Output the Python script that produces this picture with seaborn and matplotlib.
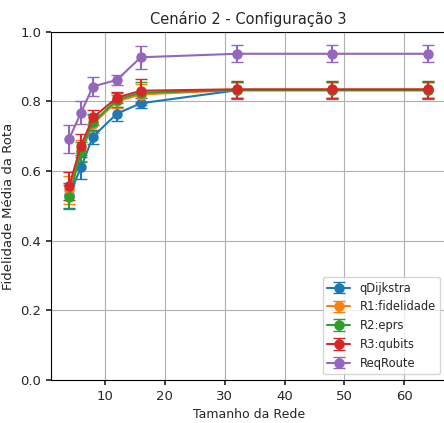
import matplotlib
matplotlib.use("Agg")
import matplotlib.pyplot as plt
import seaborn as sns
import pandas as pd
import numpy as np

# Network sizes
tamanhos = [4, 6, 8, 12, 16, 32, 48, 64]

# Mean route fidelity per algorithm
qdijkstra = [0.530, 0.611, 0.699, 0.765, 0.795, 0.832, 0.832, 0.832]
r1_fidelidade = [0.545, 0.660, 0.735, 0.800, 0.820, 0.833, 0.833, 0.833]
r2_eprs = [0.525, 0.655, 0.740, 0.805, 0.825, 0.833, 0.833, 0.833]
r3_qubits = [0.556, 0.673, 0.754, 0.811, 0.831, 0.835, 0.835, 0.835]
reqroute = [0.692, 0.768, 0.843, 0.862, 0.927, 0.937, 0.937, 0.937]

# Standard deviations
qdijkstra_err = [0.035, 0.035, 0.020, 0.020, 0.015, 0.024, 0.024, 0.024]
r1_fidelidade_err = [0.040, 0.030, 0.025, 0.020, 0.030, 0.024, 0.024, 0.024]
r2_eprs_err = [0.035, 0.030, 0.025, 0.020, 0.030, 0.024, 0.024, 0.024]
r3_qubits_err = [0.040, 0.033, 0.022, 0.015, 0.033, 0.024, 0.024, 0.024]
reqroute_err = [0.040, 0.032, 0.026, 0.014, 0.033, 0.024, 0.024, 0.024]

series = {
    "qDijkstra": (qdijkstra, qdijkstra_err),
    "R1:fidelidade": (r1_fidelidade, r1_fidelidade_err),
    "R2:eprs": (r2_eprs, r2_eprs_err),
    "R3:qubits": (r3_qubits, r3_qubits_err),
    "ReqRoute": (reqroute, reqroute_err),
}

sns.set_theme(style="ticks", palette="tab10")
plt.rcParams['font.family'] = ['DejaVu Sans']

fig = plt.figure(figsize=(4.44, 4.23), dpi=100)
ax = fig.add_axes([0.115, 0.1017, 0.89, 0.823])

colors = sns.color_palette("tab10")
for i, (nome, (media, desvio)) in enumerate(series.items()):
    ax.errorbar(tamanhos, media, yerr=desvio, marker='o', markersize=6.5,
                capsize=4, linewidth=1.5, color=colors[i], label=nome)

ax.set_ylim(0, 1.0)
ax.set_xlim(1, 67)
ax.grid(True, color="#b0b0b0", linewidth=0.8)
ax.tick_params(labelsize=9.5, length=3.5)
for s in ax.spines.values():
    s.set_color("black")
    s.set_linewidth(0.8)
ax.spines['right'].set_visible(False)

ax.set_xlabel("Tamanho da Rede", fontsize=9)
ax.set_ylabel("Fidelidade Média da Rota", fontsize=9.5)
ax.set_title("Cenário 2 - Configuração 3", fontsize=10.5)
ax.legend(loc="lower right", bbox_to_anchor=(1.0, 0.0), fontsize=8.3)

plt.savefig("out.png", dpi=100)
plt.close()
